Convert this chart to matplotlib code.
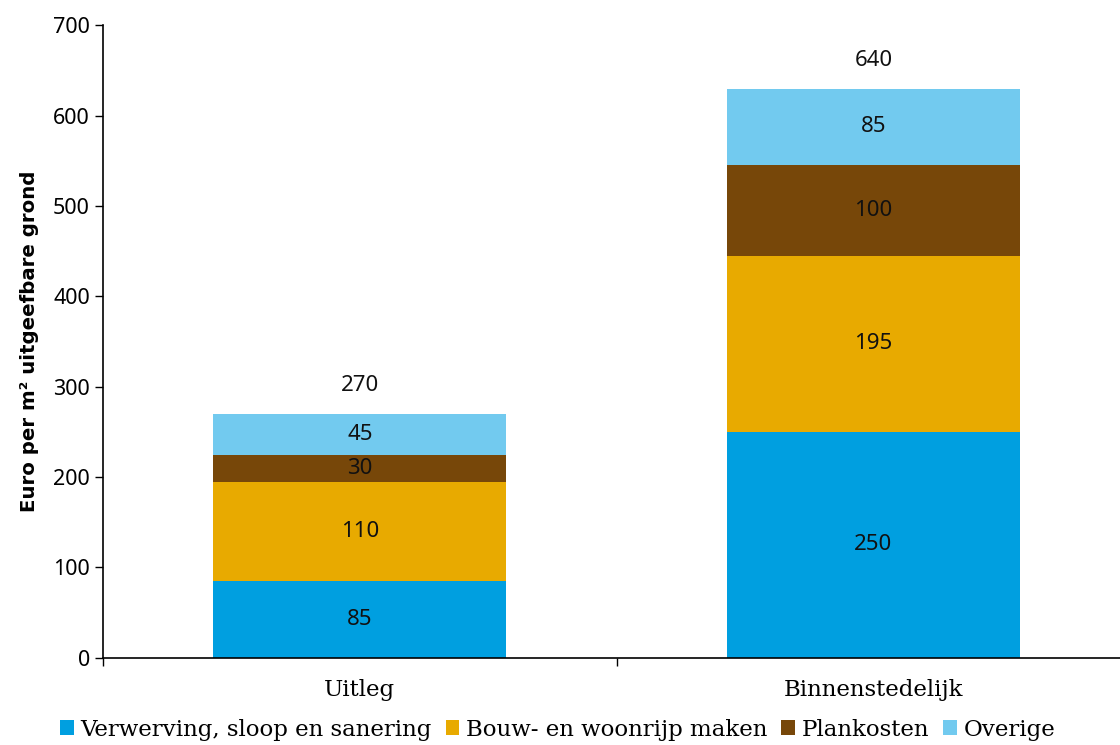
import matplotlib.pyplot as plt
import numpy as np

categories = ['Uitleg', 'Binnenstedelijk']
series = ['Verwerving, sloop en sanering', 'Bouw- en woonrijp maken', 'Plankosten', 'Overige']
values = [
    [85, 250],
    [110, 195],
    [30, 100],
    [45, 85],
]
totals = [270, 640]
colors = ['#009FE0', '#E8AA00', '#774709', '#72CAEF']

fig = plt.figure(figsize=(11.2, 7.45), dpi=100)
ax = fig.add_axes([0.092, 0.117, 0.908, 0.849])

X = np.arange(len(categories))
bottom = np.zeros(len(categories))
for name, vals, c in zip(series, values, colors):
    vals = np.array(vals, dtype=float)
    ax.bar(X, vals, bottom=bottom, width=0.57, color=c, label=name, zorder=2)
    for x, b, v in zip(X, bottom, vals):
        ax.text(x, b + v / 2, '%d' % v, ha='center', va='center',
                fontsize=16, family='Noto Sans', color='#111111', zorder=3)
    bottom += vals

# totaal boven de staaf
for x, top, t in zip(X, bottom, totals):
    ax.text(x, top + 31, '%d' % t, ha='center', va='center',
            fontsize=16, family='Noto Sans', color='#111111')

ax.set_xlim(-0.5, 1.48)
ax.set_ylim(0, 700)
ax.set_yticks(range(0, 701, 100))
ax.set_xticks(X)
ax.set_xticklabels(categories, family='DejaVu Serif', fontsize=16.5)
ax.set_xticks([-0.5, 0.5], minor=True)
ax.tick_params(axis='x', which='major', length=0, pad=15)
ax.tick_params(axis='x', which='minor', length=6, direction='out', width=1)
ax.tick_params(axis='y', length=6, direction='out', width=1, labelsize=15.5)
for lbl in ax.get_yticklabels():
    lbl.set_family('Noto Sans')

for s in ['top', 'right']:
    ax.spines[s].set_visible(False)
ax.spines['left'].set_linewidth(1.2)
ax.spines['bottom'].set_linewidth(1.2)

ax.set_ylabel('Euro per m² uitgeefbare grond', fontsize=14.2, fontweight='bold',
              family=['DejaVu Sans'], labelpad=10)

fig.legend(loc='lower center', bbox_to_anchor=(0.498, -0.022), ncol=4, frameon=False,
           prop={'family': 'DejaVu Serif', 'size': 16.5}, handlelength=0.6,
           handleheight=0.6, handletextpad=0.3, columnspacing=0.6)

fig.savefig('out.png', dpi=100)
